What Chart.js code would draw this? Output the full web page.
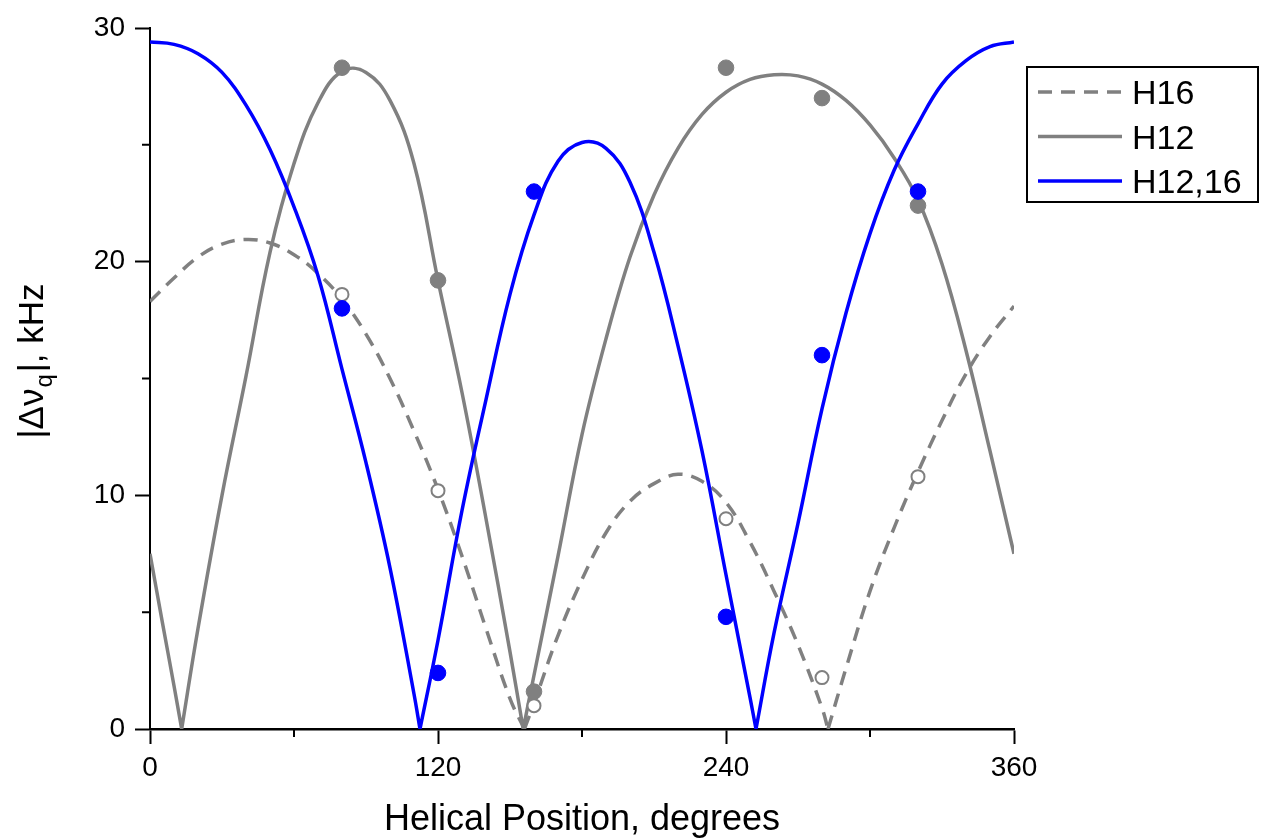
<!DOCTYPE html>
<html>
<head>
<meta charset="utf-8">
<script src="https://cdn.jsdelivr.net/npm/chart.js@4.4.1/dist/chart.umd.min.js"></script>
<style>
  html, body { margin: 0; padding: 0; background: #fff; }
  #wrap { width: 1262px; height: 840px; }
</style>
</head>
<body>
<div id="wrap"><canvas id="chart" width="1262" height="840"></canvas></div>
<script>
// fitted curves; null breaks the line at each cusp
const h16Angle = [0, 10, 20, 30, 40, 50, 60, 70, 80, 90, 100, 110, 120, 130, 140, 150, 156,
                  156,
                  156, 160, 170, 180, 190, 200, 210, 220, 230, 240, 250, 260, 270, 280, 282.5,
                  282.5,
                  282.5, 290, 300, 310, 320, 330, 340, 350, 360];
const h16Fit = [18.3, 19.3, 20.2, 20.75, 20.95, 20.8, 20.3, 19.5, 18.4, 16.9, 15.0, 12.75, 10.25, 7.4, 4.3, 1.3, 0,
                null,
                0, 1.1, 4.0, 6.4, 8.4, 9.75, 10.5, 10.9, 10.6, 9.7, 8.0, 5.9, 3.6, 0.9, 0,
                null,
                0, 2.6, 5.9, 8.6, 11.0, 13.2, 15.2, 16.8, 18.1];

const h12Angle = [0, 5, 10, 13.2,
                  13.2,
                  13.2, 20, 30, 40, 50, 60, 70, 80, 90, 100, 110, 120, 130, 140, 150, 155.5,
                  155.5,
                  155.5, 160, 170, 180, 190, 200, 210, 220, 230, 240, 250, 260, 270, 280, 290, 300, 310, 320, 330, 340, 350, 360];
const h12Fit = [7.5, 4.65, 1.85, 0,
                null,
                0, 4.3, 10.0, 15.1, 20.4, 24.2, 26.8, 28.15, 28.1, 26.9, 24.2, 19.2, 14.4, 9.0, 3.3, 0,
                null,
                0, 2.3, 7.4, 12.6, 16.7, 20.2, 22.85, 24.85, 26.3, 27.25, 27.8, 28.0, 27.95, 27.6, 26.9, 25.85, 24.45, 22.65, 19.9, 16.2, 11.9, 7.5];

const h1216Angle = [0, 10, 20, 30, 40, 50, 60, 70, 80, 90, 100, 110, 112.5,
                    112.5,
                    112.5, 120, 130, 140, 150, 160, 170, 180, 190, 200, 210, 220, 230, 240, 250, 252.5,
                    252.5,
                    252.5, 260, 270, 280, 290, 300, 310, 320, 330, 340, 350, 360];
const h1216Fit = [29.4, 29.3, 28.9, 28.1, 26.7, 24.8, 22.35, 19.4, 15.4, 11.4, 6.9, 1.5, 0,
                  null,
                  0, 3.8, 9.35, 14.1, 18.6, 22.0, 24.3, 25.1, 24.85, 23.4, 20.4, 16.4, 11.9, 6.6, 1.35, 0,
                  null,
                  0, 4.1, 8.8, 13.7, 17.8, 21.2, 23.9, 25.9, 27.6, 28.6, 29.2, 29.4];

// measured splittings
const siteAngle = [80, 120, 160, 240, 280, 320];
const h12Meas = [28.3, 19.2, 1.6, 28.3, 27.0, 22.4];
const h16Meas = [18.6, 10.2, 1.0, 9.0, 2.2, 10.8];
const h1216Meas = [18.0, 2.4, 23.0, 4.8, 16.0, 23.0];

const xMinor = [60, 180, 300];
const yMinor = [5, 15, 25];

const GRAY = '#808080';
const BLUE = '#0000ff';
const FONT = '"Liberation Sans", Arial, sans-serif';

function toXY(xs, ys) {
    return xs.map((x, i) => ({ x: x, y: ys[i] }));
}

const lineSets = [
    { label: 'H16', data: toXY(h16Angle, h16Fit), color: GRAY, dash: [14, 9] },
    { label: 'H12', data: toXY(h12Angle, h12Fit), color: GRAY, dash: [] },
    { label: 'H12,16', data: toXY(h1216Angle, h1216Fit), color: BLUE, dash: [] },
];

// extra drawing: minor ticks, axis titles, boxed legend
const extras = {
    id: 'extras',
    afterDraw(chart) {
        const ctx = chart.ctx;
        const xs = chart.scales.x, ys = chart.scales.y;
        const area = chart.chartArea;
        ctx.save();

        ctx.strokeStyle = '#000';
        ctx.lineWidth = 2;
        ctx.beginPath();
        xMinor.forEach(v => {
            const px = xs.getPixelForValue(v);
            ctx.moveTo(px, area.bottom);
            ctx.lineTo(px, area.bottom + 8);
        });
        yMinor.forEach(v => {
            const py = ys.getPixelForValue(v);
            ctx.moveTo(area.left, py);
            ctx.lineTo(area.left - 8, py);
        });
        ctx.stroke();

        ctx.fillStyle = '#000';
        ctx.textAlign = 'center';
        ctx.textBaseline = 'alphabetic';
        ctx.font = '36px ' + FONT;
        ctx.fillText('Helical Position, degrees', (area.left + area.right) / 2, 830);

        // y title with subscript q
        ctx.save();
        ctx.translate(43, 361);
        ctx.rotate(-Math.PI / 2);
        ctx.textAlign = 'left';
        const big = '35px ' + FONT, small = '24px ' + FONT;
        ctx.font = big;
        const w1 = ctx.measureText('|\u0394\u03bd').width;
        const w3 = ctx.measureText('|, kHz').width;
        ctx.font = small;
        const w2 = ctx.measureText('q').width + 3;
        let x0 = -(w1 + w2 + w3) / 2;
        ctx.font = big;
        ctx.fillText('|\u0394\u03bd', x0, 0);
        ctx.font = small;
        ctx.fillText('q', x0 + w1 + 1, 9);
        ctx.font = big;
        ctx.fillText('|, kHz', x0 + w1 + w2, 0);
        ctx.restore();

        // legend box
        ctx.lineWidth = 2;
        ctx.strokeStyle = '#000';
        ctx.strokeRect(1027, 67, 231, 135);
        ctx.font = '34px ' + FONT;
        ctx.textAlign = 'left';
        lineSets.forEach((s, i) => {
            const y = 92 + i * 44.5;
            ctx.strokeStyle = s.color;
            ctx.lineWidth = 3.5;
            ctx.setLineDash(s.dash);
            ctx.beginPath();
            ctx.moveTo(1038, y);
            ctx.lineTo(1122, y);
            ctx.stroke();
            ctx.setLineDash([]);
            ctx.fillStyle = '#000';
            ctx.fillText(s.label, 1132, y + 12);
        });
        ctx.restore();
    }
};

const datasets = [
    {
        label: 'H12,16 data', data: toXY(siteAngle, h1216Meas), showLine: false,
        pointRadius: 7.8, pointBorderWidth: 1,
        pointBackgroundColor: BLUE, pointBorderColor: BLUE
    },
    {
        label: 'H16 data', data: toXY(siteAngle, h16Meas), showLine: false,
        pointRadius: 6.5, pointBorderWidth: 2,
        pointBackgroundColor: '#fff', pointBorderColor: GRAY
    },
    {
        label: 'H12 data', data: toXY(siteAngle, h12Meas), showLine: false,
        pointRadius: 7.8, pointBorderWidth: 1,
        pointBackgroundColor: GRAY, pointBorderColor: GRAY
    },
];
lineSets.slice().reverse().forEach(s => {
    datasets.push({
        label: s.label, data: s.data, showLine: true, spanGaps: false,
        borderColor: s.color, borderWidth: 3.5, borderDash: s.dash,
        pointRadius: 0, tension: 0.4, fill: false
    });
});

new Chart(document.getElementById('chart').getContext('2d'), {
    type: 'scatter',
    data: { datasets: datasets },
    options: {
        responsive: false,
        animation: false,
        events: [],
        layout: { padding: { left: 0, right: 248, top: 28, bottom: 0 } },
        plugins: { legend: { display: false }, tooltip: { enabled: false } },
        scales: {
            x: {
                type: 'linear', min: 0, max: 360,
                afterFit(scale) { scale.height = 111; },
                border: { display: true, color: '#000', width: 2.5 },
                grid: { drawOnChartArea: false, drawTicks: true, tickLength: 15, tickWidth: 2, tickColor: '#000' },
                ticks: { stepSize: 120, color: '#000', padding: 7, maxRotation: 0, font: { size: 28, family: FONT } }
            },
            y: {
                type: 'linear', min: 0, max: 30,
                afterFit(scale) { scale.width = 150; },
                border: { display: true, color: '#000', width: 2 },
                grid: { drawOnChartArea: false, drawTicks: true, tickLength: 15, tickWidth: 2, tickColor: '#000' },
                ticks: { stepSize: 10, color: '#000', padding: 10, font: { size: 28, family: FONT } }
            }
        }
    },
    plugins: [extras]
});
</script>
</body>
</html>
